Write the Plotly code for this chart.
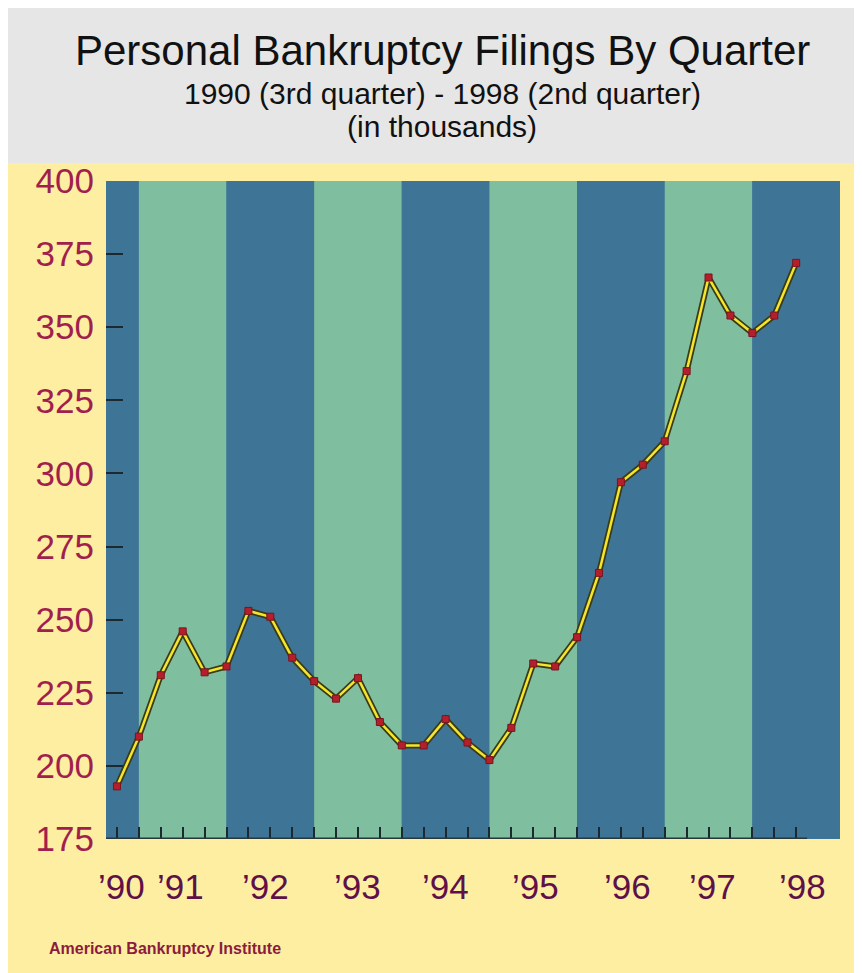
import plotly.graph_objects as go

# ---- data ----
periods = ["1990Q3", "1990Q4",
           "1991Q1", "1991Q2", "1991Q3", "1991Q4",
           "1992Q1", "1992Q2", "1992Q3", "1992Q4",
           "1993Q1", "1993Q2", "1993Q3", "1993Q4",
           "1994Q1", "1994Q2", "1994Q3", "1994Q4",
           "1995Q1", "1995Q2", "1995Q3", "1995Q4",
           "1996Q1", "1996Q2", "1996Q3", "1996Q4",
           "1997Q1", "1997Q2", "1997Q3", "1997Q4",
           "1998Q1", "1998Q2"]
filings = [193, 210,
           231, 246, 232, 234,
           253, 251, 237, 229,
           223, 230, 215, 207,
           207, 216, 208, 202,
           213, 235, 234, 244,
           266, 297, 303, 311,
           335, 367, 354, 348,
           354, 372]
year_labels = ["\u201990", "\u201991", "\u201992", "\u201993", "\u201994",
               "\u201995", "\u201996", "\u201997", "\u201998"]
y_ticks = [175, 200, 225, 250, 275, 300, 325, 350, 375, 400]

# label placement (in quarter-index units)
year_label_pos = [0.2, 2.9, 6.8, 11.0, 15.0, 19.1, 23.3, 27.2, 31.3]

W, H = 862, 973
OFF = 8  # page body margin
L, R, T, B = 98, 30, 173, 142
PW, PH = W - L - R, H - T - B

def xp(sx):
    return (sx - OFF - L) / PW

def yp(sy):
    return (H - (sy - OFF) - B) / PH

x = list(range(len(periods)))
X0, X1 = -0.5, len(periods) + 1

BLUE = "#3e7496"
GREEN = "#7fbe9f"
YELLOW = "#fdeea2"
SANS = "Liberation Sans, Arial, Helvetica, sans-serif"

fig = go.Figure()
fig.add_trace(go.Scatter(x=x, y=filings, mode="lines",
                         line=dict(color="#3b3a18", width=6),
                         hoverinfo="skip", showlegend=False))
fig.add_trace(go.Scatter(x=x, y=filings, mode="lines+markers",
                         line=dict(color="#f3e62c", width=2.5),
                         marker=dict(symbol="square", size=7, color="#b51f2c",
                                     line=dict(color="#7a1420", width=1)),
                         text=periods, showlegend=False, cliponaxis=False))

shapes = []
# alternating year bands bounded by the 4th quarters
q4_idx = [i for i, p in enumerate(periods) if p.endswith("Q4")]
bounds = [X0] + q4_idx + [q4_idx[-1] + 4]
for k in range(len(bounds) - 1):
    shapes.append(dict(type="rect", xref="x", yref="paper",
                       x0=bounds[k], x1=bounds[k + 1], y0=0, y1=1,
                       fillcolor=BLUE if k % 2 == 0 else GREEN,
                       line=dict(width=0), layer="below"))
# baseline axis line
shapes.append(dict(type="line", xref="x", yref="y",
                   x0=X0, x1=len(periods) - 0.5, y0=y_ticks[0], y1=y_ticks[0],
                   line=dict(color="#27373a", width=3), layer="above"))
# title panel
shapes.append(dict(type="rect", xref="paper", yref="paper",
                   x0=xp(0), x1=xp(W + OFF), y0=yp(163), y1=yp(OFF),
                   fillcolor="#e6e6e6", line=dict(width=0), layer="below"))

ann = []
ann.append(dict(text="Personal Bankruptcy Filings By Quarter", xref="paper", yref="paper",
                x=xp(442), y=yp(51), xanchor="center", yanchor="middle", showarrow=False,
                font=dict(family=SANS, size=42, color="#111111")))
ann.append(dict(text="1990 (3rd quarter) - 1998 (2nd quarter)", xref="paper", yref="paper",
                x=xp(442), y=yp(93), xanchor="center", yanchor="middle", showarrow=False,
                font=dict(family=SANS, size=30, color="#111111")))
ann.append(dict(text="(in thousands)", xref="paper", yref="paper",
                x=xp(442), y=yp(127), xanchor="center", yanchor="middle", showarrow=False,
                font=dict(family=SANS, size=30, color="#111111")))
for lab, pos in zip(year_labels, year_label_pos):
    ann.append(dict(text=lab, xref="x", yref="paper", x=pos, y=yp(886),
                    xanchor="center", yanchor="middle", showarrow=False,
                    font=dict(family=SANS, size=35, color="#5f1049")))
ann.append(dict(text="<b>American Bankruptcy Institute</b>", xref="paper", yref="paper",
                x=xp(47), y=yp(948), xanchor="left", yanchor="middle", showarrow=False,
                font=dict(family=SANS, size=16, color="#8c1c3e")))

fig.update_layout(
    width=W, height=H,
    margin=dict(l=L, r=R, t=T, b=B, autoexpand=False),
    paper_bgcolor=YELLOW, plot_bgcolor=BLUE,
    shapes=shapes, annotations=ann,
    xaxis=dict(range=[X0, X1], tickvals=x, ticktext=["" for _ in x],
               ticks="inside", ticklen=12, tickwidth=2, tickcolor="#1c2a30",
               showgrid=False, zeroline=False, showline=False),
    yaxis=dict(range=[y_ticks[0], y_ticks[-1]], tickvals=y_ticks,
               ticks="inside", ticklen=17, tickwidth=2, tickcolor="#1c2a30",
               showgrid=False, zeroline=False, showline=False,
               ticklabelstandoff=11,
               tickfont=dict(family=SANS, size=35, color="#a11f4d")),
)

fig.write_html("out.html")
